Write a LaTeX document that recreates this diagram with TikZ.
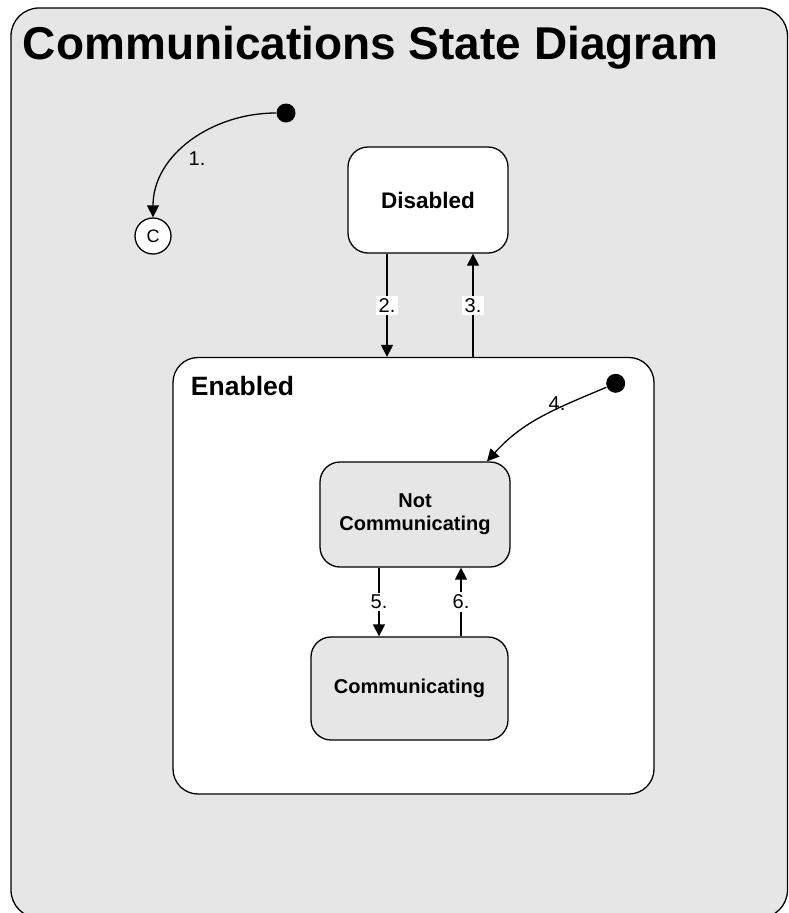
\documentclass[tikz,border=0pt]{standalone}
\usepackage{fontspec}
\setmainfont{Liberation Sans}
\usepackage{xcolor}
\usetikzlibrary{positioning,shapes,arrows.meta}
\definecolor{bggray}{RGB}{230,230,230}

\begin{document}
\begin{tikzpicture}[x=1pt,y=1pt,line width=1.3pt,
									statebox/.style = {rectangle, draw, rounded corners=20pt, align=center, font=\bfseries\fontsize{20}{23}\selectfont},
									initdot/.style = {circle, fill=black, minimum size=19pt, inner sep=0pt},
									lbl/.style = {fill=white, inner sep=2.5pt, font=\fontsize{20}{22}\selectfont},
									arr/.style = {-{Triangle[length=12pt,width=12pt]}}]
					\clip (0,0) rectangle (788,-913);
					\draw[fill=bggray, rounded corners=28pt] (11,-8) rectangle (787.5,-918);
					\node[anchor=base west, font=\bfseries\fontsize{46}{52}\selectfont] (title) at (19,-59) {Communications State Diagram};
					
					\node[initdot] (init1) at (286,-113) {};
					\node[circle, draw, fill=white, minimum size=36pt, inner sep=0pt, font=\fontsize{18}{20}\selectfont] (cnode) at (153,-236) {C};
					
					\node[statebox, fill=white, minimum width=160pt, minimum height=106pt, font=\bfseries\fontsize{22.5}{26}\selectfont] (disabled) at (428,-200) {Disabled};
					\node[rectangle, draw, fill=white, rounded corners=25pt, minimum width=481pt, minimum height=436.5pt] (enabled) at (413.5,-575.75) {};
					\node[anchor=base west, font=\bfseries\fontsize{26.5}{30}\selectfont] (enlabel) at (187,-395) {Enabled};
					
					\node[initdot] (init4) at (615.7,-383.3) {};
					\node[statebox, fill=bggray, minimum width=190pt, minimum height=105pt] (notcomm) at (415,-514.5) {Not\\Communicating};
					\node[statebox, fill=bggray, minimum width=197pt, minimum height=103pt] (comm) at (409.5,-688.5) {Communicating};
					
					\draw[arr] (init1.west) to[out=180,in=90] (cnode.north);
					\node[font=\fontsize{20}{22}\selectfont] (l1) at (197,-159) {1.};
					
					\draw[arr] ([xshift=-41pt]disabled.south) -- node[lbl] {2.} ([xshift=-41pt]disabled.south |- enabled.north);
					\draw[arr] ([xshift=45pt]disabled.south |- enabled.north) -- node[lbl] {3.} ([xshift=45pt]disabled.south);
					
					\draw[arr] (init4.203) to[out=203,in=48] ([xshift=72pt]notcomm.north);
					\node[font=\fontsize{20}{22}\selectfont] (l4) at (557,-404) {4.};
					
					\draw[arr] ([xshift=-36pt]notcomm.south) -- node[lbl] {5.} ([xshift=-36pt]notcomm.south |- comm.north);
					\draw[arr] ([xshift=46pt]notcomm.south |- comm.north) -- node[lbl] {6.} ([xshift=46pt]notcomm.south);
				\end{tikzpicture}
\end{document}
